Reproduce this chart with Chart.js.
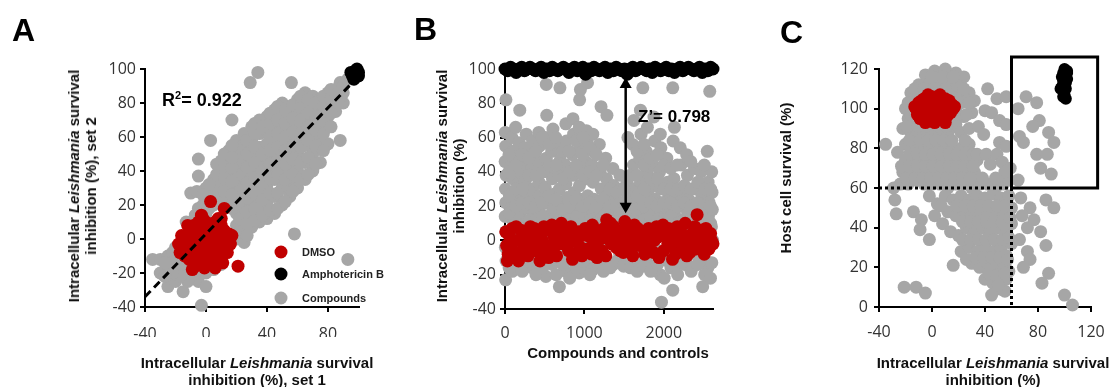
<!DOCTYPE html>
<html><head><meta charset="utf-8">
<script src="https://cdn.jsdelivr.net/npm/chart.js"></script>
<style>
html,body{margin:0;padding:0;background:#fff;}
body{width:1116px;height:387px;overflow:hidden;position:relative;font-family:"Liberation Sans",Arial,sans-serif;color:#111;}
canvas{position:absolute;top:0;}
.t{position:absolute;font-weight:bold;font-size:15px;line-height:17px;white-space:nowrap;text-align:center;transform:translate(-50%,-50%);}
.r{transform:translate(-50%,-50%) rotate(-90deg);}
.letter{position:absolute;font-weight:bold;font-size:32px;line-height:32px;color:#000;}
.ann{position:absolute;font-weight:bold;white-space:nowrap;color:#000;}
.leg{position:absolute;font-weight:bold;font-size:11px;line-height:13px;white-space:nowrap;color:#222;transform:translateY(-50%);}
.dot{position:absolute;width:13px;height:13px;border-radius:50%;transform:translate(-50%,-50%);}
</style></head>
<body>
<canvas id="cA" width="380" height="387" style="left:0"></canvas>
<canvas id="cB" width="360" height="387" style="left:380px"></canvas>
<canvas id="cC" width="376" height="387" style="left:740px"></canvas>

<div class="letter" style="left:12px;top:14px">A</div>
<div class="letter" style="left:414px;top:13px">B</div>
<div class="letter" style="left:780px;top:16px">C</div>

<div class="t r" style="left:82px;top:186px">Intracellular <i>Leishmania</i> survival<br>inhibition (%), set 2</div>
<div class="t" style="left:257px;top:371px">Intracellular <i>Leishmania</i> survival<br>inhibition (%), set 1</div>
<div class="t r" style="left:450px;top:186px">Intracellular <i>Leishmania</i> survival<br>inhibition (%)</div>
<div class="t" style="left:618px;top:352px">Compounds and controls</div>
<div class="t r" style="left:785px;top:178px">Host cell survival (%)</div>
<div class="t" style="left:993px;top:371px">Intracellular <i>Leishmania</i> survival<br>inhibition (%)</div>

<div class="ann" style="left:162px;top:91px;font-size:18px;line-height:18px">R<sup style="font-size:11px;line-height:0">2</sup>= 0.922</div>
<div class="ann" style="left:638px;top:108px;font-size:17px;line-height:17px">Z’= 0.798</div>

<div class="dot" style="left:281px;top:252px;background:#c00000"></div>
<div class="leg" style="left:302px;top:252px">DMSO</div>
<div class="dot" style="left:281px;top:274px;background:#000"></div>
<div class="leg" style="left:302px;top:274px">Amphotericin B</div>
<div class="dot" style="left:281px;top:298px;background:#a6a6a6"></div>
<div class="leg" style="left:302px;top:298px">Compounds</div>

<script>
// ---------- tick labels ----------
const aXTicks = [-40, 0, 40, 80];
const aYTicks = [-40, -20, 0, 20, 40, 60, 80, 100];
const bXTicks = [0, 1000, 2000];
const bYTicks = [-40, -20, 0, 20, 40, 60, 80, 100];
const cXTicks = [-40, 0, 40, 80, 120];
const cYTicks = [0, 20, 40, 60, 80, 100, 120];

// ---------- Panel A: replicate screens (set 1 vs set 2) ----------
const aCompounds = [
[-35,-12],[-30,-12],[-30,-20],[-25,-10],[-25,-28],[-25,-15],[-20,-5],[-20,-12],[-20,-18],[-20,-25],
[-15,0],[-13,10],[-15,-8],[-15,-20],[-15,-31],[-10,5],[-10,-3],[-10,-15],[-10,-22],[-10,27],
[-5,10],[-5,18],[-5,-18],[-5,-25],[-6,28],[-5,37],[-5,47],[0,15],[0,22],[0,30],[0,-20],[0,-28],[-3,-39],
[5,20],[5,28],[5,35],[5,-18],[10,25],[10,32],[10,40],[10,46],[10,-15],
[15,20],[15,30],[15,38],[15,45],[15,52],[17,70],[3,58],
[20,0],[20,8],[20,15],[20,25],[20,35],[20,42],[20,50],[20,58],
[25,-2],[25,5],[25,12],[25,20],[25,28],[25,38],[25,46],[25,55],[25,62],
[30,7],[30,15],[30,22],[30,32],[30,40],[30,50],[30,58],[30,66],[29,92],[34,98],
[35,10],[35,18],[35,28],[35,36],[35,45],[35,54],[35,62],[35,70],
[40,12],[40,22],[40,32],[40,40],[40,48],[40,56],[40,64],[40,72],
[45,15],[45,25],[45,35],[45,44],[45,52],[45,60],[45,68],[45,76],
[50,20],[50,30],[50,40],[50,48],[50,56],[50,64],[50,72],[50,80],
[55,25],[55,34],[55,44],[55,52],[55,60],[55,68],[55,76],[56,92],[58,3],
[60,30],[60,40],[60,50],[60,58],[60,66],[60,74],[60,82],
[65,35],[65,45],[65,55],[65,63],[65,72],[65,80],[65,86],
[70,40],[70,50],[70,62],[70,70],[70,78],[70,84],
[75,45],[75,58],[75,68],[75,76],[75,82],
[80,56],[80,72],[80,80],[80,86],[85,75],[85,82],[85,88],[88,58],[88,92],
[90,80],[90,86],[90,90],[93,-12],[93,94],
[22,4],[22,12],[22,20],[22,30],[22,38],[22,46],[22,54],
[27,2],[27,9],[27,16],[27,24],[27,33],[27,42],[27,50],[27,58],
[32,11],[32,18],[32,27],[32,36],[32,45],[32,54],[32,62],[32,68],
[37,14],[37,23],[37,32],[37,40],[37,50],[37,66],
[42,17],[42,27],[42,36],[42,44],[42,52],[42,60],[42,68],[42,74],
[47,18],[47,27],[47,38],[47,46],[47,54],[47,62],[47,70],[47,78],
[52,22],[52,35],[52,44],[52,52],[52,60],[52,68],[52,76],
[57,28],[57,38],[57,47],[57,55],[57,63],[57,71],[57,79],
[62,35],[62,45],[62,54],[62,62],[62,70],[62,78],[62,84],
[67,38],[67,48],[67,58],[67,66],[67,74],[67,82],
[72,44],[72,55],[72,64],[72,72],[72,80],
[77,52],[77,62],[77,70],[77,78],[77,84],
[82,66],[82,74],[82,82],[82,88],[87,80],[87,86],
[7,22],[7,30],[7,38],[7,44],[7,-16],[12,22],[12,28],[12,36],[12,43],[12,50],
[17,18],[17,26],[17,34],[17,42],[17,48],[17,55],[2,18],[2,25],[2,32],
[-2,12],[-2,20],[-2,26],[-7,-20],[-7,-12],[-7,8],[-7,14],
[-12,-25],[-12,-18],[-12,-6],[-12,2],[-17,-22],[-17,-15],[-17,-8],
[-22,-20],[-22,-8],[-22,-14],[-27,-14],[-27,-22]
];
const aDmso = [
[-15,-5],[-12,0],[-10,5],[-8,8],[-5,10],[-2,12],[0,10],[3,8],[6,10],[8,12],[10,8],[12,5],[13,0],[12,-5],
[10,-10],[8,-13],[5,-15],[2,-14],[-2,-15],[-5,-13],[-8,-10],[-10,-8],[-13,-3],[-6,-5],[-3,-2],[0,0],[3,2],
[6,-2],[9,1],[-2,5],[1,-6],[4,-9],[-6,2],[7,5],[-9,-2],[-11,-12],[-4,-8],[2,-3],[5,4],[-1,3],[0,-10],
[10,12],[12,18],[3,22],[-3,14],[-14,-10],[14,-8],[15,3],[-7,-16],[6,-17],[21,-16],[-16,2],[-12,8],[9,-5],
[-1,-17],[16,-3],[11,-14],[-17,-8],[-18,-3],[17,2],[-9,-18]
];
const aAmpho = [[96,96],[98,99],[99,97],[97,94],[100,98],[98,96],[95,98],[99,100],[97,98],[100,96]];
const aFit = [[-40,-34],[96,92]];

// ---------- Panel B: whole screen in plate order ----------
const bCompounds = [
[8,-23],[14,-12],[5,-4],[12,5],[3,14],[10,22],[6,30],[15,38],[2,46],[9,55],[4,63],[12,82],
[92,-18],[100,-8],[88,3],[97,12],[85,20],[102,28],[94,36],[90,45],[99,52],[87,60],
[176,-14],[185,-6],[170,4],[188,16],[178,24],[172,33],[190,40],[182,48],[175,57],[186,76],
[255,-10],[266,0],[250,10],[262,19],[270,27],[256,35],[264,44],[252,54],[268,62],
[345,-16],[356,-5],[340,6],[352,15],[360,24],[347,30],[338,42],[355,50],[349,58],
[425,-12],[436,-2],[420,9],[432,18],[440,26],[428,34],[418,46],[434,55],[426,63],
[515,-21],[524,-8],[510,4],[528,14],[518,22],[506,31],[530,40],[520,48],[512,60],[526,73],[520,91],
[595,-14],[606,-4],[590,8],[602,18],[612,27],[598,36],[588,52],[604,65],
[685,-27],[694,-10],[680,2],[690,12],[700,22],[686,30],[676,39],[696,47],[688,56],[692,89],
[765,-18],[776,-6],[760,6],[772,16],[782,25],[768,33],[758,44],[774,58],[766,68],
[855,-12],[866,0],[850,10],[862,20],[872,28],[858,38],[848,50],[864,62],[856,71],
[935,-19],[946,-8],[930,4],[942,14],[952,24],[938,32],[928,42],[944,55],[936,66],[940,82],[950,88],
[1025,-15],[1036,-4],[1020,8],[1032,18],[1042,26],[1028,36],[1018,46],[1034,58],[1026,64],[1040,92],
[1105,-17],[1116,-6],[1100,6],[1112,16],[1122,24],[1108,34],[1098,44],[1114,52],[1106,62],
[1195,-10],[1206,2],[1190,12],[1202,20],[1212,30],[1198,40],[1188,56],[1210,78],
[1275,-12],[1286,0],[1270,10],[1282,18],[1292,26],[1278,36],[1268,48],[1284,73],
[1365,-14],[1376,-2],[1360,8],[1372,16],[1382,24],[1368,32],[1358,42],
[1445,-8],[1456,4],[1440,14],[1452,22],[1462,30],[1448,38],
[1535,-12],[1546,0],[1530,10],[1542,18],[1552,26],[1538,34],[1548,60],
[1615,-6],[1626,6],[1610,14],[1622,22],[1632,30],[1618,44],[1608,56],[1624,70],
[1705,-14],[1716,-2],[1700,8],[1712,16],[1722,24],[1708,34],[1698,48],[1714,62],[1706,76],[1736,89],
[1785,-10],[1796,2],[1780,12],[1792,20],[1802,28],[1788,40],[1778,52],[1794,66],
[1875,-15],[1886,-4],[1870,6],[1882,16],[1892,24],[1878,32],[1868,44],[1884,58],[1876,72],
[1971,-36],[1955,-20],[1966,-8],[1950,4],[1962,14],[1972,22],[1958,30],[1948,40],[1964,54],[1956,62],
[2045,-12],[2056,0],[2040,10],[2052,18],[2062,26],[2048,34],[2038,48],
[2113,-29],[2125,-16],[2136,-4],[2120,6],[2132,16],[2142,24],[2128,36],[2118,58],[2134,66],[2113,89],
[2215,-10],[2226,2],[2210,12],[2222,20],[2232,28],[2218,44],[2208,54],
[2295,-14],[2306,-2],[2290,8],[2302,16],[2312,24],[2298,38],[2288,50],
[2385,-8],[2396,4],[2380,12],[2392,20],[2402,30],[2388,42],
[2490,-27],[2465,-12],[2476,0],[2460,10],[2472,18],[2482,26],[2468,40],
[2555,-16],[2566,-4],[2550,6],[2562,14],[2572,22],[2558,34],[2548,52],[2579,87],
[2605,-13],[2616,0],[2600,8],[2612,18],[2608,28],[2604,40],
[52,-16],[52,16],[55,26],[48,40],[50,50],
[138,-12],[140,10],[136,20],[142,30],[138,44],[134,66],
[218,-18],[220,8],[214,22],[222,30],[216,50],
[305,-12],[308,12],[302,22],[306,38],[300,48],
[390,-20],[392,12],[386,20],[394,38],[388,52],
[475,-16],[478,14],[472,22],[476,40],[470,60],
[560,-12],[562,10],[556,26],[560,44],[558,56],
[645,-20],[648,14],[642,24],[646,44],[640,60],
[730,-14],[732,8],[726,18],[730,36],[728,52],
[815,-22],[818,12],[812,20],[816,40],[810,52],
[900,-16],[902,14],[896,24],[900,44],[898,58],
[985,-12],[988,10],[982,20],[986,38],[980,50],[984,60],
[1070,-20],[1072,12],[1066,22],[1070,40],[1068,54],
[1155,-13],[1158,10],[1152,20],[1156,38],[1150,50],
[1240,-18],[1242,14],[1236,24],[1240,44],
[1325,-16],[1328,12],[1322,20],[1326,30],
[1410,-12],[1412,10],[1406,20],[1410,28],
[1495,-15],[1498,12],[1492,22],[1496,30],
[1580,-16],[1582,14],[1576,22],[1580,38],
[1665,-18],[1668,10],[1662,18],[1666,26],[1660,38],[1664,52],
[1750,-15],[1752,12],[1746,20],[1750,30],[1748,44],[1752,56],
[1835,-18],[1838,14],[1832,22],[1836,36],[1830,48],
[1920,-14],[1922,12],[1916,20],[1920,36],[1918,50],
[2005,-22],[2008,12],[2002,22],[2006,30],[2000,44],
[2090,-16],[2092,14],[2086,22],[2090,30],[2088,42],
[2175,-20],[2178,10],[2172,20],[2176,30],[2170,44],
[2260,-14],[2262,12],[2256,22],[2260,32],
[2345,-18],[2348,10],[2342,20],[2346,30],[2340,46],
[2430,-14],[2432,12],[2426,22],[2430,34],
[2515,-20],[2518,12],[2512,20],[2516,30],[2510,44],
[2588,-22],[2590,10],[2586,20],[2590,30]
];
const bDmso = [
[10,5],[20,-3],[40,-8],[60,2],[90,7],[120,-10],[150,0],[170,-12],[200,6],[230,-5],[260,3],[290,-9],[320,8],
[350,1],[380,-6],[410,5],[440,-12],[470,0],[500,-7],[530,6],[560,-3],[590,9],[620,2],[650,-9],[680,5],
[710,10],[740,-2],[770,4],[800,-6],[830,8],[860,0],[890,-8],[920,5],[950,-4],[980,3],[1010,7],[1040,-5],
[1070,2],[1100,9],[1130,-3],[1160,-10],[1190,4],[1220,-6],[1250,7],[1280,12],[1310,3],[1340,-2],[1370,8],
[1400,-4],[1430,5],[1460,1],[1490,-7],[1520,6],[1550,-1],[1580,4],[1610,-9],[1640,2],[1670,7],[1700,-3],
[1730,5],[1760,-8],[1790,3],[1820,-5],[1850,6],[1880,0],[1910,8],[1940,-10],[1970,4],[2000,-6],[2030,2],
[2060,7],[2090,-3],[2120,5],[2150,-8],[2180,1],[2210,6],[2240,-4],[2270,10],[2300,0],[2330,-7],[2360,4],
[2390,8],[2420,15],[2450,-3],[2480,6],[2510,-8],[2540,2],[2570,-5],[2600,0],[2620,-2],
[30,-12],[80,-5],[140,8],[190,-8],[250,-1],[310,-4],[370,7],[430,-3],[490,8],[550,-10],[610,-5],[670,-2],
[730,6],[790,1],[850,-11],[910,-1],[970,-9],[1030,4],[1090,-8],[1150,6],[1210,1],[1270,-9],[1330,10],
[1390,2],[1450,-6],[1510,11],[1570,-4],[1630,9],[1690,4],[1750,1],[1810,7],[1870,-7],[1930,2],[1990,9],
[2050,-2],[2110,-11],[2170,8],[2230,3],[2290,-9],[2350,-2],[2410,-5],[2470,0],[2530,7],[2590,4]
];
const bAmpho = [
[0,100],[35,99],[70,101],[105,100],[140,98],[175,100],[210,101],[245,99],[280,100],[315,101],[350,100],
[385,99],[420,100],[455,101],[490,98],[525,100],[560,99],[595,101],[630,100],[665,99],[700,100],[735,101],
[770,100],[805,98],[840,100],[875,101],[910,99],[945,100],[980,101],[1015,97],[1050,100],[1085,99],
[1120,101],[1155,100],[1190,99],[1225,100],[1260,101],[1295,98],[1330,100],[1365,99],[1400,101],
[1435,100],[1470,99],[1505,100],[1540,97],[1575,100],[1610,101],[1645,99],[1680,100],[1715,101],
[1750,100],[1785,99],[1820,100],[1855,98],[1890,101],[1925,100],[1960,99],[1995,100],[2030,101],
[2065,99],[2100,100],[2135,98],[2170,100],[2205,101],[2240,99],[2275,100],[2310,101],[2345,100],
[2380,99],[2415,100],[2450,101],[2485,98],[2520,100],[2555,99],[2590,101],[2620,100]
];
const bZArrow = [[1520,20],[1520,91]];

// ---------- Panel C: activity vs host cell survival ----------
const cCompounds = [
[-5,117],[2,119],[10,120],[18,118],[24,116],[-10,112],[-2,113],[6,114],[14,114],[22,111],[28,108],[-16,108],
[-20,100],[-18,95],[20,106],[26,104],[32,104],[-10,108],[14,108],[18,112],[-14,94],[-8,92],[-2,90],[8,91],
[14,90],[18,92],[22,88],[28,90],[24,96],[30,98],[-22,90],[-16,88],[-12,86],[-6,88],[0,88],[6,88],[12,86],
[-20,82],[-14,80],[-8,80],[-2,82],[4,80],[10,82],[16,80],[22,80],[28,82],[-35,82],[-26,78],[-20,74],
[-14,74],[-8,72],[-2,74],[4,72],[10,74],[16,72],[22,74],[28,72],[34,74],[-22,68],[-16,66],[-10,66],
[-4,68],[2,66],[8,68],[14,66],[20,68],[26,66],[32,68],[-24,62],[-18,62],[-12,64],[-6,62],[0,62],[6,62],
[12,60],[18,62],[24,62],[30,60],[36,62],[42,62],[48,60],[54,62],[58,64],[-29,60],
[-19,65],[-13,65],[-7,65],[-1,65],[5,65],[11,65],[17,65],[23,65],[29,65],
[-23,71],[-17,71],[-11,71],[-5,71],[1,71],[7,71],[13,71],[19,71],[25,71],[31,71],
[-17,77],[-11,77],[-5,77],[1,77],[7,77],[13,77],[19,77],[25,77],[31,77],
[-17,84],[-9,84],[-3,84],[3,84],[9,84],[15,84],[25,84],
[-19,91],[-11,91],[-5,91],[5,91],[11,91],[-16,97],[-12,97],[20,97],[26,97],
[-18,103],[-14,103],[22,103],[28,103],[-13,110],[-6,110],[2,110],[10,110],[24,110],[0,116],[8,116],[16,116],
[42,110],[49,105],[56,106],[40,99],[45,98],[51,94],[56,92],[35,91],[39,87],[51,83],[56,81],[34,77],
[41,77],[49,77],[53,73],[59,70],[55,68],[44,72],[38,65],[48,65],
[71,106],[79,103],[65,100],[81,94],[76,91],[88,88],[92,83],[66,86],[69,83],[79,77],[87,77],[82,70],
[90,67],[65,64],
[-28,54],[-27,47],[-14,48],[-8,44],[-9,39],[-2,34],[-2,56],[4,52],[10,56],[16,54],[22,56],[28,54],
[34,56],[40,55],[46,57],[52,55],[58,56],[2,46],[8,42],[12,48],[18,46],[24,48],[30,46],[36,48],[42,46],
[48,48],[54,46],[60,50],[14,38],[20,36],[26,40],[32,38],[38,40],[44,38],[50,40],[56,38],[60,42],
[22,28],[28,30],[34,28],[40,30],[46,28],[52,30],[56,26],[60,32],[30,22],[36,20],[42,22],[48,20],
[54,22],[58,18],[40,14],[46,12],[52,9],[56,14],[16,21],[26,24],[45,6],[55,8],
[7,51],[19,51],[25,51],[31,51],[37,51],[43,51],[49,51],[55,51],
[23,43],[29,43],[35,43],[41,43],[47,43],[53,43],[59,45],
[23,34],[29,34],[35,34],[41,34],[47,34],[53,34],[58,35],
[33,25],[39,25],[45,25],[51,25],[57,24],[43,17],[49,16],[55,17],[50,11],
[67,55],[74,50],[68,46],[72,40],[77,44],[66,34],[72,28],[86,54],[92,50],[82,38],[86,31],[74,24],
[69,20],[88,17],[83,12],[100,6],[106,1],
[-21,10],[-12,10],[-5,7]
];
const cDmso = [
[-12,100],[-10,103],[-8,97],[-6,105],[-5,99],[-4,94],[-2,102],[0,106],[0,97],[1,100],[2,93],[3,104],
[4,98],[5,101],[6,107],[7,95],[8,103],[9,99],[10,105],[11,96],[12,101],[13,104],[14,98],[15,102],
[16,100],[-9,95],[-7,101],[-3,107],[-1,95],[6,99],[3,97],[-11,97],[-13,101],[10,93],[17,101],[2,102],
[-5,93],[12,97],[5,105],[-8,104]
];
const cAmpho = [
[100,120],[102,119],[99,118],[101,117],[100,116],[102,115],[99,114],[101,113],[100,112],[98,111],
[101,110],[99,109],[97,110],[100,107],[101,105],[99,106],[102,118],[98,116]
];
const cCutX = [[-40,60],[60,60]];
const cCutY = [[60,60],[60,0]];
const cHitBox = [[60,60],[60,126],[125,126],[125,60],[60,60]];

// ---------- drawing ----------
const GRAY = '#a6a6a6', RED = '#c00000', BLACK = '#000000';
const xy = a => a.map(([x, y]) => ({x, y}));

function pts(label, data, color, r) {
  return {label, data: xy(data), backgroundColor: color, borderWidth: 0, pointRadius: r,
          pointHoverRadius: r, clip: false};
}
function line(data, width, dash) {
  return {data: xy(data), showLine: true, borderColor: BLACK, borderWidth: width, borderDash: dash,
          pointRadius: 0, fill: false, clip: false};
}
function scale(min, max, tickValues, pad, horizontal) {
  return {
    type: 'linear', min, max,
    afterBuildTicks: s => { s.ticks = tickValues.map(value => ({value})); },
    ticks: {padding: pad, color: '#333', autoSkip: false, maxRotation: 0, minRotation: 0,
            font: {family: '"Open Sans", sans-serif', size: 16}, callback: v => String(v)},
    grid: {display: true, drawOnChartArea: false, drawTicks: true, tickLength: 5,
           color: BLACK, lineWidth: 2},
    border: {display: true, color: BLACK, width: 2},
    afterFit: horizontal ? s => { s.height = 30; } : s => { s.width = 45; }
  };
}
function make(id, datasets, xs, ys, padding) {
  return new Chart(document.getElementById(id), {
    type: 'scatter',
    data: {datasets},
    options: {
      responsive: false, animation: false, devicePixelRatio: 1, events: [],
      layout: {padding},
      plugins: {legend: {display: false}, tooltip: {enabled: false}},
      scales: {x: xs, y: ys}
    }
  });
}

make('cA', [
  line(aFit, 3, [8, 5]),
  pts('Amphotericin B', aAmpho, BLACK, 6.5),
  pts('DMSO', aDmso, RED, 6.5),
  pts('Compounds', aCompounds, GRAY, 6.5)
], scale(-40, 100, aXTicks, 13, true), scale(-40, 100, aYTicks, 4, false),
{left: 100, right: 21.5, top: 69, bottom: 50});

const arrow = line(bZArrow, 2.5, []);
arrow.pointRadius = 7; arrow.pointStyle = 'triangle'; arrow.pointRotation = [180, 0];
arrow.backgroundColor = BLACK; arrow.pointBorderWidth = 0;
make('cB', [
  arrow,
  pts('Amphotericin B', bAmpho, BLACK, 6.5),
  pts('DMSO', bDmso, RED, 6.5),
  pts('Compounds', bCompounds, GRAY, 6.5)
], scale(0, 2620, bXTicks, 10, true), scale(-40, 100, bYTicks, 4, false),
{left: 80, right: 27, top: 69, bottom: 48});

make('cC', [
  line(cHitBox, 3, []),
  line(cCutX, 3, [3, 3]),
  line(cCutY, 3, [3, 3]),
  pts('Amphotericin B', cAmpho, BLACK, 6),
  pts('DMSO', cDmso, RED, 6.5),
  pts('Compounds', cCompounds, GRAY, 6.5)
], scale(-40, 120, cXTicks, 11, true), scale(0, 120, cYTicks, 6, false),
{left: 94, right: 25, top: 69, bottom: 50});
</script>
</body></html>
